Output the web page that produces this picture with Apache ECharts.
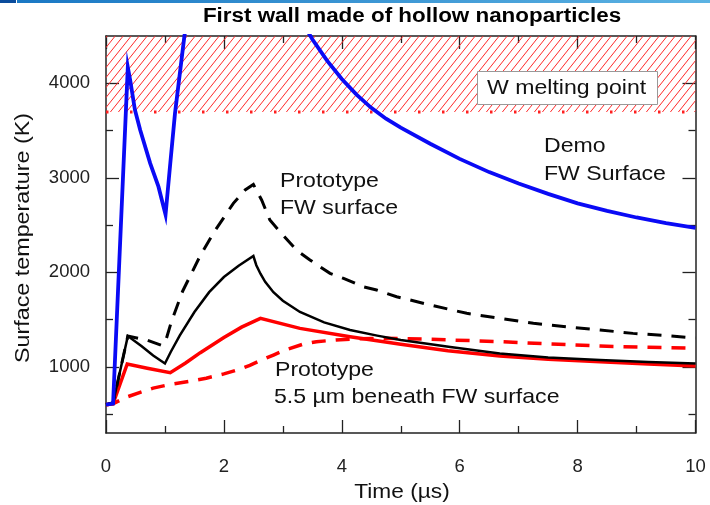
<!DOCTYPE html>
<html><head><meta charset="utf-8">
<script src="https://cdn.jsdelivr.net/npm/echarts@6/dist/echarts.min.js"></script>
<style>html,body{margin:0;padding:0;background:#fff}#c{width:710px;height:505px}</style>
</head><body><div id="c"></div>
<script>
// ---- data (time in µs, temperature in K) ----
const demoSurfaceEarly = [[0,600],[0.12,610],[0.37,4170],[0.41,4035],[0.49,3720],[0.58,3505],[0.75,3153],[0.89,2906],[1.01,2610],[1.09,3150],[1.17,3680],[1.33,4500],[1.45,4950]];
const demoSurfaceLate = [[3.3,4680],[3.5,4465],[3.75,4240],[4.0,4045],[4.25,3880],[4.5,3740],[4.75,3625],[5.0,3530],[5.5,3360],[6.0,3200],[6.5,3060],[7.0,2940],[7.5,2830],[8.0,2730],[8.5,2650],[9.0,2580],[9.5,2520],[10,2470]];
const protoSurfaceSolid = [[0,600],[0.12,620],[0.37,1325],[0.6,1220],[0.8,1120],[1.0,1035],[1.1,1160],[1.25,1330],[1.5,1580],[1.75,1790],[2.0,1950],[2.25,2070],[2.5,2172],[2.55,2075],[2.62,1985],[2.7,1900],[2.84,1790],[3.0,1700],[3.29,1580],[3.7,1470],[4.14,1390],[4.6,1330],[5.0,1283],[5.84,1210],[6.68,1140],[7.5,1100],[8.38,1072],[9.2,1050],[10,1035]];
const protoSurfaceDashed = [[0,600],[0.12,620],[0.37,1325],[0.69,1284],[0.95,1225],[1.02,1290],[1.11,1480],[1.3,1800],[1.59,2165],[1.82,2413],[2.16,2730],[2.36,2871],[2.5,2930],[2.64,2765],[2.78,2553],[2.95,2430],[3.23,2236],[3.46,2130],[3.8,1989],[4.03,1936],[4.36,1848],[4.59,1813],[4.93,1742],[5.16,1707],[5.5,1654],[6.12,1566],[6.68,1513],[7.25,1460],[7.81,1424],[8.38,1390],[8.94,1354],[9.5,1330],[10,1305]];
const beneathSolid = [[0,600],[0.12,610],[0.36,1030],[0.7,985],[1.09,938],[1.35,1040],[1.6,1150],[2.0,1310],[2.3,1420],[2.62,1513],[3.29,1407],[4.14,1318],[5.0,1240],[5.8,1170],[6.68,1114],[7.5,1080],[8.38,1054],[9.2,1030],[10,1009]];
const beneathDashed = [[0,600],[0.12,610],[0.35,680],[0.58,730],[0.8,775],[1.1,815],[1.4,845],[1.7,880],[2.0,925],[2.24,970],[2.44,1015],[2.65,1075],[2.84,1125],[3.04,1178],[3.35,1241],[3.57,1266],[3.9,1284],[4.3,1298],[4.7,1302],[5.5,1292],[6.68,1266],[7.5,1243],[8.38,1220],[9.2,1207],[10,1196]];
const meltingPoint = 3695;
const xTicks = [0,2,4,6,8,10];
const yMajorTicks = [1000,2000,3000,4000];
const yMinorTicks = [500,1500,2500,3500];
const titleText = 'First wall made of hollow nanoparticles';
const xName = 'Time (µs)';
const yName = 'Surface temperature (K)';

// hatch pattern
const tile = document.createElement('canvas');
tile.width = 8; tile.height = 10;
const g = tile.getContext('2d');
g.strokeStyle = '#ff2a2a'; g.lineWidth = 1;
g.beginPath(); g.moveTo(0,10); g.lineTo(8,0); g.moveTo(-1,1.25); g.lineTo(1,-1.25); g.moveTo(7,11.25); g.lineTo(9,8.75); g.stroke();

const FONT = '"Liberation Sans", Arial, sans-serif';
const chart = echarts.init(document.getElementById('c'), null, {renderer:'canvas'});
const axisLine = {show:true, onZero:false, lineStyle:{color:'#222', width:1.5}};
const tickStyle = {color:'#222', width:1.3};
function xAx(pos, labels){
  return {type:'value', min:xTicks[0], max:xTicks[xTicks.length-1], interval:2, position:pos,
    axisLine, splitLine:{show:false},
    axisTick:{show:true, inside:true, length:13, lineStyle:tickStyle},
    minorTick:{show:true, splitNumber:2, length:7, lineStyle:tickStyle},
    axisLabel:{show:labels, fontSize:18.5, color:'#222', fontFamily:FONT, margin:24, formatter:v=>String(v)}};
}
function yAx(pos, vals, len, labels, line){
  return {type:'value', min:300, max:4500, position:pos,
    axisLine: line ? axisLine : {show:false, onZero:false}, splitLine:{show:false},
    axisTick:{show:true, inside:true, length:len, lineStyle:tickStyle, customValues:vals},
    axisLabel:{show:labels, fontSize:18.5, color:'#222', fontFamily:FONT, margin:16, customValues:vals, formatter:v=>String(v)}};
}
function line(data, color, width, type, z){
  return {type:'line', data, showSymbol:false, symbol:'none', smooth:false, clip:true, z,
    lineStyle:{color, width, type, cap:'butt', join:'miter'}, emphasis:{disabled:true}};
}
function txt(text, x, y, size, opts){
  return Object.assign({type:'text', x, y, scaleX:1.1, z:100,
    style:{text, font: size+'px '+FONT, fill:'#111', textAlign:'left', textVerticalAlign:'middle'}}, opts||{});
}
const meltingEdge = [[xTicks[0], meltingPoint], [xTicks[xTicks.length-1], meltingPoint]];
chart.setOption({
  animation:false,
  grid:{left:106, right:14.5, top:36, bottom:72, containLabel:false},
  xAxis:[xAx('bottom', true), xAx('top', false)],
  yAxis:[yAx('left', yMajorTicks, 13, true, true), yAx('right', yMajorTicks, 13, false, true),
         yAx('left', yMinorTicks, 7, false, false), yAx('right', yMinorTicks, 7, false, false)],
  series:[
    {type:'line', data:[], z:1,
      markArea:{silent:true, itemStyle:{color:{image:tile, repeat:'repeat'}},
        data:[[{yAxis:meltingPoint, xAxis:0},{yAxis:4500, xAxis:10}]]}},
    line(meltingEdge, '#ff2020', 3, [2.5,21.5], 1),
    line(beneathDashed, '#ff0000', 3.5, [14,10], 2),
    line(beneathSolid, '#ff0000', 3.5, 'solid', 3),
    line(protoSurfaceDashed, '#000', 3, [14,10], 4),
    line(protoSurfaceSolid, '#000', 2.5, 'solid', 5),
    line(demoSurfaceEarly, '#0a0af5', 3.8, 'solid', 6),
    line(demoSurfaceLate, '#0a0af5', 3.8, 'solid', 6)
  ],
  graphic:[
    {type:'rect', shape:{x:0,y:0,width:16,height:3}, style:{fill:'#0b4c9c'}},
    {type:'rect', shape:{x:17,y:0,width:693,height:3}, style:{fill:new echarts.graphic.LinearGradient(0,0,1,0,[{offset:0,color:'#1a78c4'},{offset:1,color:'#5cb3e3'}])}},
    txt(titleText, 412, 16, 20, {scaleX:1.12, style:{text:titleText, font:'bold 20px '+FONT, fill:'#000', textAlign:'center', textVerticalAlign:'middle'}}),
    {type:'rect', z:99, shape:{x:477.5,y:71.5,width:180,height:33}, style:{fill:'#fff', stroke:'#999', lineWidth:1}},
    txt('W melting point', 487, 88, 21),
    txt('Demo', 544, 146, 21),
    txt('FW Surface', 544, 174, 21),
    txt('Prototype', 280, 181, 21),
    txt('FW surface', 280, 208, 21),
    txt('Prototype', 275, 370, 21),
    txt('5.5 µm beneath FW surface', 274, 397, 21),
    txt(xName, 402, 492, 21, {scaleX:1.08, style:{text:xName, font:'21px '+FONT, fill:'#111', textAlign:'center', textVerticalAlign:'middle'}}),
    txt(yName, 23, 238, 21, {scaleX:1.11, rotation:Math.PI/2, style:{text:yName, font:'21px '+FONT, fill:'#111', textAlign:'center', textVerticalAlign:'middle'}})
  ]
});
</script></body></html>
